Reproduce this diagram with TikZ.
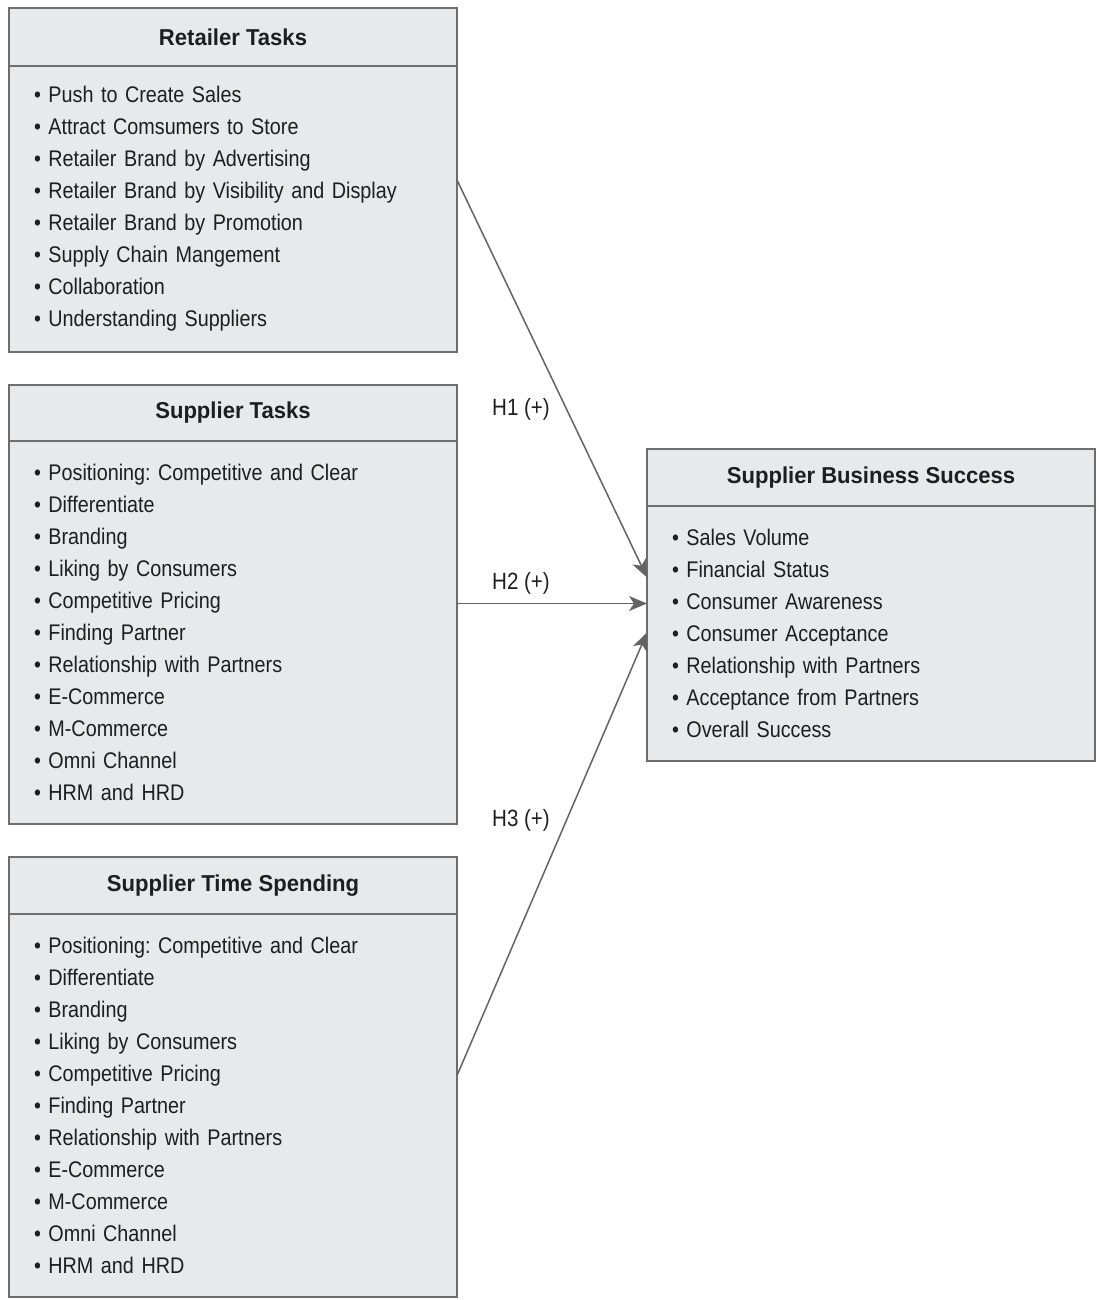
\documentclass[tikz,border=0pt]{standalone}
\usepackage{fontspec}
\setmainfont{Liberation Sans}[FakeStretch=0.875, BoldFeatures={FakeStretch=0.96}]
\usetikzlibrary{positioning,arrows.meta}
\definecolor{boxfill}{HTML}{E8E9EB}
\definecolor{boxline}{HTML}{6E6E6E}
\definecolor{ink}{HTML}{1E1E1E}
\definecolor{arrowgray}{HTML}{636363}
\frenchspacing

\begin{document}
\begin{tikzpicture}[x=1pt, y=-1pt]
        \tikzstyle{every node} = [outer sep=0pt, text=ink]
        \tikzstyle{head} = [draw=boxline, fill=boxfill, line width=1.3pt, minimum width=448pt, font=\fontsize{23}{27}\selectfont\bfseries]
        \tikzstyle{body} = [draw=boxline, fill=boxfill, line width=1.3pt, text width=398pt, inner xsep=25pt, align=left, font=\fontsize{22.6}{32}\selectfont]
        \tikzstyle{hyp} = [draw=arrowgray, line width=1.5pt, -{Stealth[length=18pt, width=15pt, inset=5pt]}]
        \tikzstyle{hlabel} = [font=\fontsize{23.5}{26}\selectfont]
        \useasboundingbox (0,0) rectangle (1098,1300);

        \node[head, minimum height=58pt](rth) at (233,37){Retailer Tasks};
        \node[body, minimum height=286pt, below=0pt of rth](rtb){%
            \textbullet\ Push to Create Sales\\
            \textbullet\ Attract Comsumers to Store\\
            \textbullet\ Retailer Brand by Advertising\\
            \textbullet\ Retailer Brand by Visibility and Display\\
            \textbullet\ Retailer Brand by Promotion\\
            \textbullet\ Supply Chain Mangement\\
            \textbullet\ Collaboration\\
            \textbullet\ Understanding Suppliers};

        \node[head, minimum height=56pt](sth) at (233,413){Supplier Tasks};
        \node[body, minimum height=383pt, below=0pt of sth](stb){%
            \textbullet\ Positioning: Competitive and Clear\\
            \textbullet\ Differentiate\\
            \textbullet\ Branding\\
            \textbullet\ Liking by Consumers\\
            \textbullet\ Competitive Pricing\\
            \textbullet\ Finding Partner\\
            \textbullet\ Relationship with Partners\\
            \textbullet\ E-Commerce\\
            \textbullet\ M-Commerce\\
            \textbullet\ Omni Channel\\
            \textbullet\ HRM and HRD};

        \node[head, minimum height=57pt](tsh) at (233,885.5){Supplier Time Spending};
        \node[body, minimum height=383pt, below=0pt of tsh](tsb){%
            \textbullet\ Positioning: Competitive and Clear\\
            \textbullet\ Differentiate\\
            \textbullet\ Branding\\
            \textbullet\ Liking by Consumers\\
            \textbullet\ Competitive Pricing\\
            \textbullet\ Finding Partner\\
            \textbullet\ Relationship with Partners\\
            \textbullet\ E-Commerce\\
            \textbullet\ M-Commerce\\
            \textbullet\ Omni Channel\\
            \textbullet\ HRM and HRD};

        \node[head, minimum height=57pt](bsh) at (871,477.5){Supplier Business Success};
        \node[body, minimum height=255pt, below=0pt of bsh](bsb){%
            \textbullet\ Sales Volume\\
            \textbullet\ Financial Status\\
            \textbullet\ Consumer Awareness\\
            \textbullet\ Consumer Acceptance\\
            \textbullet\ Relationship with Partners\\
            \textbullet\ Acceptance from Partners\\
            \textbullet\ Overall Success};

        % hypotheses
        \draw[hyp] ([yshift=29pt]rtb.east) -- ([yshift=56pt]bsb.west);
        \draw[hyp] ([yshift=29pt]stb.east) -- ([yshift=29pt]stb.east -| bsb.west);
        \draw[hyp] ([yshift=30pt]tsb.east) -- ([yshift=1pt]bsb.west);

        \node[hlabel](h1) at (521,409){H1 (+)};
        \node[hlabel](h2) at (521,583){H2 (+)};
        \node[hlabel](h3) at (521,820){H3 (+)};
    \end{tikzpicture}
\end{document}
